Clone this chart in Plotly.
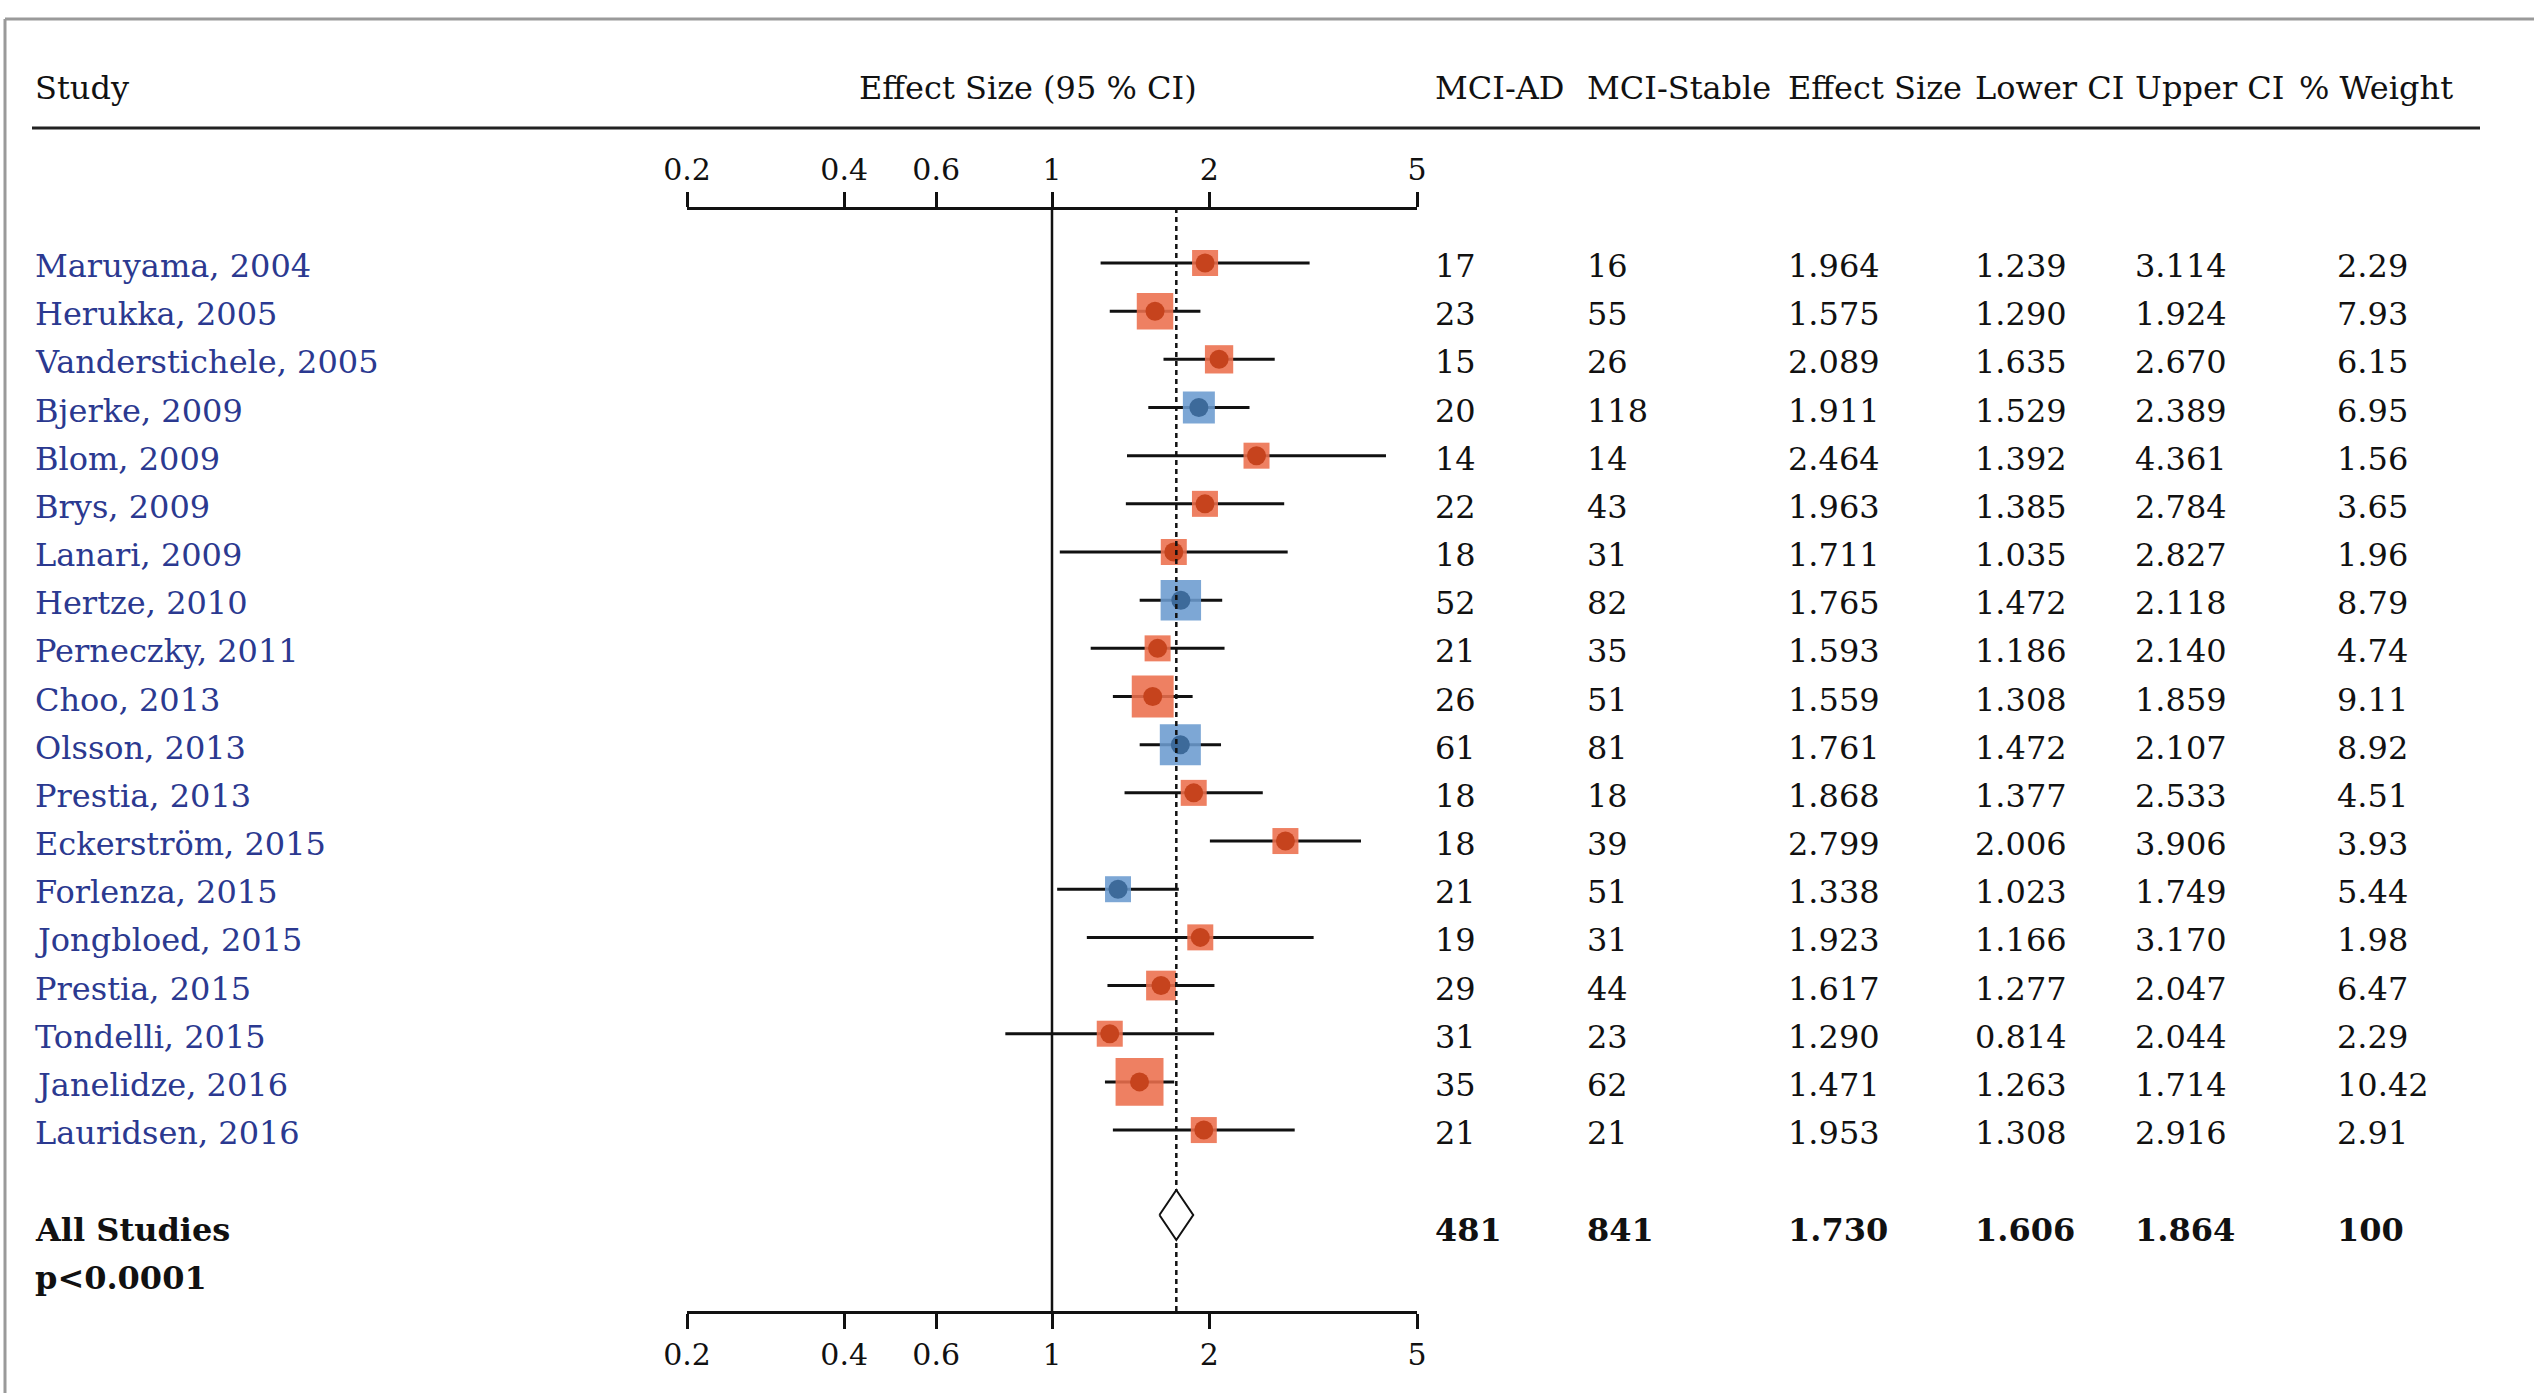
import math
import plotly.graph_objects as go

# ---------------- data ----------------
studies = ["Maruyama, 2004", "Herukka, 2005", "Vanderstichele, 2005", "Bjerke, 2009",
           "Blom, 2009", "Brys, 2009", "Lanari, 2009", "Hertze, 2010", "Perneczky, 2011",
           "Choo, 2013", "Olsson, 2013", "Prestia, 2013", "Eckerström, 2015",
           "Forlenza, 2015", "Jongbloed, 2015", "Prestia, 2015", "Tondelli, 2015",
           "Janelidze, 2016", "Lauridsen, 2016"]
mci_ad = [17, 23, 15, 20, 14, 22, 18, 52, 21, 26, 61, 18, 18, 21, 19, 29, 31, 35, 21]
mci_stable = [16, 55, 26, 118, 14, 43, 31, 82, 35, 51, 81, 18, 39, 51, 31, 44, 23, 62, 21]
effect = [1.964, 1.575, 2.089, 1.911, 2.464, 1.963, 1.711, 1.765, 1.593, 1.559, 1.761,
          1.868, 2.799, 1.338, 1.923, 1.617, 1.290, 1.471, 1.953]
lower_ci = [1.239, 1.290, 1.635, 1.529, 1.392, 1.385, 1.035, 1.472, 1.186, 1.308, 1.472,
            1.377, 2.006, 1.023, 1.166, 1.277, 0.814, 1.263, 1.308]
upper_ci = [3.114, 1.924, 2.670, 2.389, 4.361, 2.784, 2.827, 2.118, 2.140, 1.859, 2.107,
            2.533, 3.906, 1.749, 3.170, 2.047, 2.044, 1.714, 2.916]
weight = [2.29, 7.93, 6.15, 6.95, 1.56, 3.65, 1.96, 8.79, 4.74, 9.11, 8.92, 4.51, 3.93,
          5.44, 1.98, 6.47, 2.29, 10.42, 2.91]
group = ["A", "A", "A", "B", "A", "A", "A", "B", "A", "A", "B", "A", "A", "B", "A", "A",
         "A", "A", "A"]

total_label = "All Studies"
p_label = "p<0.0001"
total_ad = 481
total_stable = 841
total_effect = 1.730
total_lower = 1.606
total_upper = 1.864
total_weight = 100

headers = ["MCI-AD", "MCI-Stable", "Effect Size", "Lower CI", "Upper CI", "% Weight"]
tick_vals = [0.2, 0.4, 0.6, 1, 2, 5]
tick_text = ["0.2", "0.4", "0.6", "1", "2", "5"]

# ---------------- layout constants (pixels) ----------------
W, H = 2534, 1393
ROW0, ROWSTEP = 263.0, 48.17
TOP_AXIS_PX, BOT_AXIS_PX = 208, 1312
X0_PX, X1_PX = 687, 1417
FONT = "Georgia, 'DejaVu Serif', serif"
FS = 32
BLUE_TXT = "#2b3990"
COLS = {"sq": {"A": "#ec6e4c", "B": "#6b9bcf"}, "ci": {"A": "#c6431d", "B": "#3d6a9a"}}
col_x_px = [1433, 1585, 1786, 1973, 2133, 2335]
hdr_x_px = [1433, 1585, 1786, 1973, 2133, 2297]


def row_of_px(p):
    return (p - ROW0) / ROWSTEP


def px(x):
    return x / W


def py(y):
    return 1 - y / H


n = len(studies)
rows = list(range(n))
sum_text_row = row_of_px(1230)
diamond_row = row_of_px(1215)
p_row = row_of_px(1278)
top_row = row_of_px(TOP_AXIS_PX)
bot_row = row_of_px(BOT_AXIS_PX)

fig = go.Figure()

# CI lines
cx, cy = [], []
for i in rows:
    cx += [lower_ci[i], upper_ci[i], None]
    cy += [i, i, None]
fig.add_trace(go.Scatter(x=cx, y=cy, mode="lines", line=dict(color="#111111", width=3),
                         hoverinfo="skip", showlegend=False))

# vertical reference line at 1
fig.add_trace(go.Scatter(x=[1, 1], y=[top_row, bot_row], mode="lines",
                         line=dict(color="#111111", width=2.5), hoverinfo="skip",
                         showlegend=False))

# squares
sizes = [max(26, 4.6 * w) for w in weight]
fig.add_trace(go.Scatter(x=effect, y=rows, mode="markers",
                         marker=dict(symbol="square", size=sizes,
                                     color=[COLS["sq"][g] for g in group], opacity=0.88,
                                     line=dict(width=0)),
                         hoverinfo="skip", showlegend=False))
# circles
fig.add_trace(go.Scatter(x=effect, y=rows, mode="markers",
                         marker=dict(symbol="circle", size=19,
                                     color=[COLS["ci"][g] for g in group],
                                     line=dict(width=0)),
                         hoverinfo="skip", showlegend=False))

# dashed overall line
fig.add_trace(go.Scatter(x=[total_effect, total_effect], y=[top_row, bot_row], mode="lines",
                         line=dict(color="#111111", width=2.5, dash="5px,4px"),
                         hoverinfo="skip", showlegend=False))

# diamond
dh = 25 / ROWSTEP
fig.add_trace(go.Scatter(x=[total_lower, total_effect, total_upper, total_effect, total_lower],
                         y=[diamond_row, diamond_row - dh, diamond_row, diamond_row + dh,
                            diamond_row],
                         mode="lines", fill="toself", fillcolor="white",
                         line=dict(color="#111111", width=2), hoverinfo="skip",
                         showlegend=False))

# invisible trace on top axis
fig.add_trace(go.Scatter(x=[1], y=[0], xaxis="x2", mode="markers",
                         marker=dict(opacity=0), hoverinfo="skip", showlegend=False))

ann = []


def add_text(x_px_, y, text, yref="y", color="#111111", bold=False, anchor="left", yshift=0):
    ann.append(dict(x=px(x_px_), xref="paper", y=y, yref=yref,
                    text=f"<b>{text}</b>" if bold else text,
                    showarrow=False, xanchor=anchor, yanchor="middle", yshift=yshift,
                    font=dict(family=FONT, size=FS, color=color)))


# headers
add_text(33, py(88), "Study", yref="paper")
add_text(1028, py(88), "Effect Size (95 % CI)", yref="paper", anchor="center")
for hx, h in zip(hdr_x_px, headers):
    add_text(hx, py(88), h, yref="paper")

# rows
for i in rows:
    add_text(33, i, studies[i], color=BLUE_TXT, yshift=-3)
    vals = [str(mci_ad[i]), str(mci_stable[i]), f"{effect[i]:.3f}", f"{lower_ci[i]:.3f}",
            f"{upper_ci[i]:.3f}", f"{weight[i]:.2f}"]
    for cxp, v in zip(col_x_px, vals):
        add_text(cxp, i, v, yshift=-3)

# summary
add_text(33, sum_text_row, total_label, bold=True)
add_text(33, p_row, p_label, bold=True)
svals = [str(total_ad), str(total_stable), f"{total_effect:.3f}", f"{total_lower:.3f}",
         f"{total_upper:.3f}", str(total_weight)]
for cxp, v in zip(col_x_px, svals):
    add_text(cxp, sum_text_row, v, bold=True)

shapes = [
    dict(type="line", xref="paper", yref="paper", x0=px(5), x1=1, y0=py(19), y1=py(19),
         line=dict(color="#9a9a9a", width=3)),
    dict(type="line", xref="paper", yref="paper", x0=px(5), x1=px(5), y0=py(19), y1=0,
         line=dict(color="#9a9a9a", width=3)),
    dict(type="line", xref="paper", yref="paper", x0=px(32), x1=px(2480), y0=py(128),
         y1=py(128), line=dict(color="#222222", width=3)),
]

xr = [math.log10(0.2), math.log10(5)]
axis_common = dict(type="log", range=xr, domain=[px(X0_PX), px(X1_PX)], showgrid=False,
                   zeroline=False, showline=True, linecolor="#111111", linewidth=3,
                   ticks="outside", ticklen=15, tickwidth=2.5, tickcolor="#111111",
                   tickvals=tick_vals, ticktext=tick_text, automargin=False,
                   tickfont=dict(family=FONT, size=30, color="#111111"), anchor="free",
                   fixedrange=True)

fig.update_layout(
    template="none",
    width=W, height=H, margin=dict(l=0, r=0, t=0, b=0, pad=0, autoexpand=False),
    paper_bgcolor="white", plot_bgcolor="white",
    xaxis=dict(**axis_common, position=py(BOT_AXIS_PX), side="bottom"),
    xaxis2=dict(**axis_common, position=py(TOP_AXIS_PX), side="top", overlaying="x"),
    yaxis=dict(range=[row_of_px(H), row_of_px(0)], domain=[0, 1], visible=False,
               fixedrange=True, automargin=False),
    annotations=ann, shapes=shapes, showlegend=False,
)

fig.write_html("out.html", config={"displayModeBar": False},
               post_script="document.body.style.margin='0';document.body.style.overflow='hidden';")
